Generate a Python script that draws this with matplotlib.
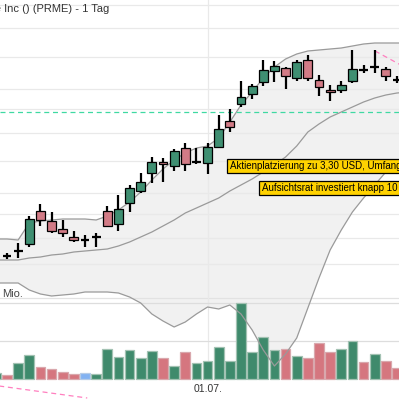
import matplotlib
matplotlib.use("Agg")
import matplotlib.pyplot as plt
import numpy as np

plt.rcParams['font.family'] = ['Liberation Sans', 'DejaVu Sans']

# ---------------- data ----------------
idx = list(range(36))
opens  = [1.945, 1.99, 2.06, 2.39, 2.29, 2.21, 2.13, 2.10, 2.13, 2.39, 2.26, 2.47, 2.59, 2.77, 2.88, 2.84, 3.02, 2.88,
          2.87, 3.03, 3.29, 3.46, 3.56, 3.68, 3.79, 3.82, 3.72, 3.90, 3.70, 3.60, 3.60, 3.69, 3.80, 3.83, 3.81, 3.70]
highs  = [1.975, 2.07, 2.34, 2.46, 2.38, 2.30, 2.19, 2.15, 2.17, 2.44, 2.55, 2.65, 2.77, 2.93, 2.92, 3.01, 3.07, 3.02,
          3.07, 3.35, 3.41, 3.69, 3.66, 3.90, 3.89, 3.83, 3.90, 3.95, 3.75, 3.65, 3.69, 4.00, 3.85, 4.00, 3.83, 3.74]
lows   = [1.91, 1.92, 2.03, 2.24, 2.17, 2.13, 2.08, 2.03, 2.03, 2.23, 2.19, 2.38, 2.57, 2.67, 2.68, 2.79, 2.79, 2.86,
          2.76, 3.03, 3.18, 3.43, 3.51, 3.64, 3.68, 3.61, 3.69, 3.69, 3.54, 3.49, 3.57, 3.67, 3.77, 3.77, 3.69, 3.67]
closes = [1.945, 1.99, 2.31, 2.30, 2.19, 2.17, 2.10, 2.10, 2.13, 2.24, 2.41, 2.62, 2.68, 2.88, 2.86, 2.99, 2.86, 2.88,
          3.03, 3.21, 3.23, 3.53, 3.64, 3.80, 3.84, 3.74, 3.88, 3.72, 3.63, 3.58, 3.65, 3.81, 3.80, 3.83, 3.74, 3.70]

# volume in Mio. (index -1 is the partly visible bar at the left edge)
vol_idx = list(range(-1, 36))
volumes = [0.17, 0.10, 0.42, 0.63, 0.32, 0.26, 0.18, 0.13, 0.16, 0.13, 0.79, 0.58, 0.76, 0.55, 0.74, 0.55, 0.34, 0.71,
           0.42, 0.47, 0.84, 0.47, 2.00, 0.71, 1.11, 0.76, 0.79, 0.61, 0.55, 0.95, 0.71, 0.79, 1.00, 0.45, 0.66, 0.47, 0.29]
vol_dir = ['g', 'r', 'g', 'g', 'r', 'r', 'r', 'r', 'b', 'g', 'g', 'g', 'g', 'g', 'g', 'r', 'g', 'r',
           'g', 'g', 'g', 'g', 'g', 'g', 'g', 'g', 'r', 'g', 'r', 'r', 'r', 'g', 'g', 'r', 'g', 'r', 'r']

# Bollinger bands (index -1 .. 36)
band_idx = list(range(-1, 37))
bb_upper = [2.11, 2.11, 2.10, 2.27, 2.29, 2.30, 2.31, 2.31, 2.31, 2.30, 2.34, 2.40, 2.48, 2.58, 2.70, 2.81, 2.90, 2.97,
            3.02, 3.04, 3.12, 3.28, 3.45, 3.58, 3.72, 3.83, 3.91, 3.96, 3.99, 4.00, 4.01, 4.02, 4.04, 4.06, 4.07, 4.07,
            4.07, 4.07]
bb_mid   = [1.90, 1.90, 1.90, 1.92, 1.93, 1.95, 1.96, 1.98, 1.99, 2.00, 2.01, 2.04, 2.08, 2.13, 2.18, 2.24, 2.30, 2.37,
            2.42, 2.47, 2.52, 2.59, 2.65, 2.71, 2.78, 2.85, 2.93, 3.04, 3.18, 3.26, 3.33, 3.38, 3.43, 3.48, 3.52, 3.55,
            3.57, 3.58]
bb_lower = [1.67, 1.67, 1.67, 1.60, 1.56, 1.54, 1.55, 1.56, 1.58, 1.58, 1.58, 1.57, 1.53, 1.47, 1.36, 1.29, 1.23, 1.28,
            1.36, 1.43, 1.41, 1.45, 1.36, 1.20, 1.00, 0.84, 0.96, 1.12, 1.42, 1.72, 2.00, 2.20, 2.38, 2.52, 2.65, 2.78,
            2.88, 2.95]

price_grid = [4.45, 4.22, 3.93, 3.61, 3.41, 3.17, 2.89, 2.57, 2.36, 2.12, 1.86]
vol_grid = [1.0, 2.0]
ref_level = 3.38               # green dashed line
trend_1 = ([33.03, 35.5], [3.99, 3.84])   # pink dashed trend lines (index, price)
trend_2 = ([-0.7, 7.2], [0.64, 0.52])

date_ticks = [18]
date_labels = ["01.07."]

title = "Prime Medicine Inc () (PRME) - 1 Tag"
news = [(20, 2.84, "Aktienplatzierung zu 3,30 USD, Umfang 150 Mio. USD"),
        (22.85, 2.62, "Aufsichtsrat investiert knapp 10 Mio. USD")]

# ---------------- figure ----------------
W = H = 399
fig = plt.figure(figsize=(W / 100, H / 100), dpi=100)
xlim = (-7 / 11.143, (W - 7) / 11.143)
plim = (4.50 - H / 100, 4.50)
vlim = (-(H - 379) / 38, 379 / 38)

ax_bg = fig.add_axes([0, 0, 1, 1])
ax_v = fig.add_axes([0, 0, 1, 1], facecolor='none')
ax_fg = fig.add_axes([0, 0, 1, 1], facecolor='none')
for a in (ax_bg, ax_fg):
    a.set_xlim(*xlim); a.set_ylim(*plim)
ax_v.set_xlim(*xlim); ax_v.set_ylim(*vlim)
for a in (ax_bg, ax_v, ax_fg):
    a.set_axis_off()

grid_c = '#e9e9e9'
# band fill
ax_bg.fill_between(band_idx, bb_lower, bb_upper, color='#f1f1f1', lw=0, zorder=1)
for g in price_grid:
    ax_bg.axhline(g, color=grid_c, lw=0.9, zorder=2)
ax_bg.axhline(plim[1] - 2.98, color='#e2e2e2', lw=0.9, zorder=2)
for t in date_ticks:
    ax_bg.axvline(t, ymin=1 - 379 / H, ymax=1, color=grid_c, lw=0.9, zorder=2)

# volume
for g in vol_grid:
    ax_v.axhline(g, color='#dddddd', lw=0.9, zorder=1)
fc = {'g': '#3f8a6c', 'r': '#d5767f', 'b': '#82b2f2'}
ec = {'g': '#a3c2b3', 'r': '#d9a8ad', 'b': '#b5cbe6'}
ax_v.bar(vol_idx, volumes, width=0.86, color=[fc[d] for d in vol_dir],
         edgecolor=[ec[d] for d in vol_dir], linewidth=0.9, zorder=2)

# band lines
ax_fg.plot(band_idx, bb_upper, color='#9a9a9a', lw=0.9, zorder=2)
ax_fg.plot(band_idx, bb_mid, color='#9a9a9a', lw=0.9, zorder=2)
ax_fg.plot(band_idx, bb_lower, color='#9a9a9a', lw=0.9, zorder=2)

# reference & trend lines
ax_fg.axhline(ref_level, color='#3fd9a2', lw=0.9, dashes=(4, 3), zorder=2)
for tx, ty in (trend_1, trend_2):
    ax_fg.plot(tx, ty, color='#ff7fbf', lw=0.9, dashes=(4, 3), zorder=2)

# candles
o = np.array(opens); c = np.array(closes); h = np.array(highs); l = np.array(lows)
x = np.array(idx)
ax_fg.vlines(x, l, h, color='black', lw=1.6, zorder=3)
up = c > o; dn = c < o; dj = c == o
ax_fg.bar(x[up], (c - o)[up], bottom=o[up], width=0.8, color='#3f8f72', edgecolor='black', lw=0.9, zorder=4)
ax_fg.bar(x[dn], (o - c)[dn], bottom=c[dn], width=0.8, color='#d27b86', edgecolor='black', lw=0.9, zorder=4)
ax_fg.hlines(c[dj], x[dj] - 0.4, x[dj] + 0.4, color='black', lw=1.6, zorder=4)

# news boxes
for nx, ny, txt in news:
    ax_fg.text(nx, ny, txt, fontsize=7, color='black', ha='left', va='center', zorder=6,
               bbox=dict(boxstyle='square,pad=0.25', fc='#ffd200', ec='black', lw=0.9))

# texts
fig.text(109 / W, 1 - 9 / H, title, fontsize=8, color='#333333', ha='right', va='center')
fig.text(2 / W, 1 - 297 / H, "Mio.", fontsize=8, color='#444444', ha='left', va='baseline')
for t, lab in zip(date_ticks, date_labels):
    ax_fg.text(t, plim[0] + 0.10, lab, fontsize=7.5, color='#333333', ha='center', va='center')

fig.savefig("out.png", dpi=100)
